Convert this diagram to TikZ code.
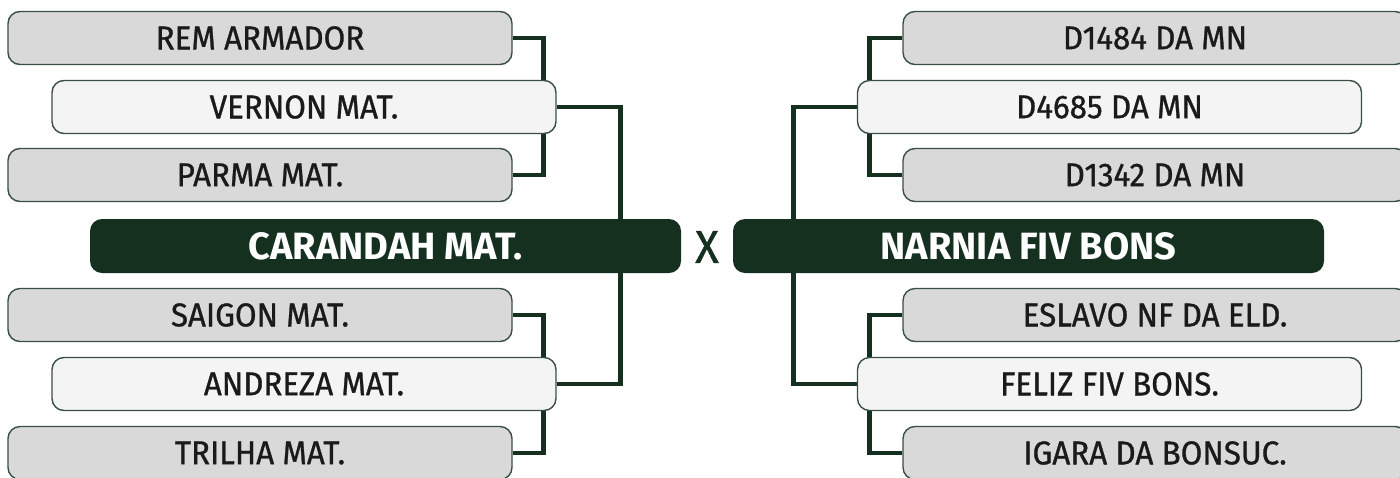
\documentclass[tikz,border=0pt]{standalone}
\usepackage{fontspec}
\setmainfont{Fira Sans}
\newfontfamily\labelfont[FakeBold=0.9, FakeStretch=0.95]{Fira Sans}
\usetikzlibrary{calc,backgrounds}
\definecolor{pitch}{HTML}{163020}
\definecolor{seedgray}{HTML}{D9D9D9}
\definecolor{lightgray}{HTML}{F4F4F4}
\definecolor{labelink}{HTML}{1A1A1A}

\begin{document}
\begin{tikzpicture}[x=0.5pt,y=-0.5pt]
            \tikzstyle{team}=[draw=pitch!85, line width=0.7pt, rounded corners=6pt, inner sep=0pt, minimum width=252pt, minimum height=26.5pt, text=labelink, font=\labelfont\fontsize{16.5}{18}\selectfont]
            \tikzstyle{outer}=[team, fill=seedgray]
            \tikzstyle{inner}=[team, fill=lightgray]
            \tikzstyle{finalist}=[fill=pitch, rounded corners=6pt, inner sep=0pt, minimum width=295.5pt, minimum height=27pt, text=white, font=\bfseries\fontsize{19}{21}\selectfont]
            \tikzstyle{link}=[line width=2.4pt, pitch]

            \useasboundingbox (0,0) rectangle (1400,477);

            %%%%%%%%%%%%%%%%%%%%%%%%%%%%%%%%%%%%%%%%
            % left bracket
            \node at (260, 38) (rem) [outer] {REM ARMADOR};
            \node at (304, 107) (vernon) [inner] {VERNON MAT.};
            \node at (260, 175) (parma) [outer] {PARMA MAT.};
            \node at (385.5, 246) (carandah) [finalist] {CARANDAH MAT.};
            \node at (260, 315) (saigon) [outer] {SAIGON MAT.};
            \node at (304, 384) (andreza) [inner] {ANDREZA MAT.};
            \node at (260, 453) (trilha) [outer] {TRILHA MAT.};

            % right bracket
            \node at (1155, 38) (dA) [outer] {D1484 DA MN};
            \node at (1109.5, 107) (dB) [inner] {D4685 DA MN};
            \node at (1155, 175) (dC) [outer] {D1342 DA MN};
            \node at (1028.5, 246) (narnia) [finalist] {NARNIA FIV BONS};
            \node at (1155, 315) (eslavo) [outer] {ESLAVO NF DA ELD.};
            \node at (1109.5, 384) (feliz) [inner] {FELIZ FIV BONS.};
            \node at (1155, 453) (igara) [outer] {IGARA DA BONSUC.};

            \node at (707, 247) (versus) [text=pitch, font=\labelfont\fontsize{23}{25}\selectfont] {X};

            %%%%%%%%%%%%%%%%%%%%%%%%%%%%%%%%%%%%%%%%
            \begin{scope}[on background layer]
                \draw[link] (rem.east) -| ($(vernon.north east)+(-13,0)$);
                \draw[link] (parma.east) -| ($(vernon.south east)+(-13,0)$);
                \draw[link] (vernon.east) -| ($(carandah.north east)+(-61,0)$);
                \draw[link] (saigon.east) -| ($(andreza.north east)+(-13,0)$);
                \draw[link] (trilha.east) -| ($(andreza.south east)+(-13,0)$);
                \draw[link] (andreza.east) -| ($(carandah.south east)+(-61,0)$);

                \draw[link] (dA.west) -| ($(dB.north west)+(13,0)$);
                \draw[link] (dC.west) -| ($(dB.south west)+(13,0)$);
                \draw[link] (dB.west) -| ($(narnia.north west)+(61,0)$);
                \draw[link] (eslavo.west) -| ($(feliz.north west)+(13,0)$);
                \draw[link] (igara.west) -| ($(feliz.south west)+(13,0)$);
                \draw[link] (feliz.west) -| ($(narnia.south west)+(61,0)$);
            \end{scope}
        \end{tikzpicture}
\end{document}
